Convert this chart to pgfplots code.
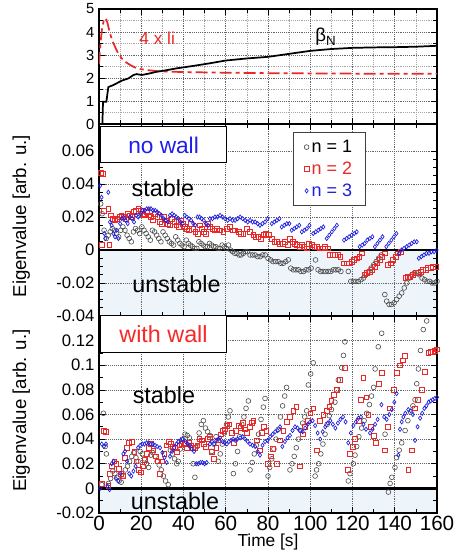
\documentclass[border=0pt]{standalone}
\usepackage{fontspec}
\setmainfont{Liberation Sans}
\usepackage{pgfplots}
\pgfplotsset{compat=1.18}
\usepackage{pgfplotstable}
\definecolor{cred}{RGB}{235,40,40}
\definecolor{cblue}{RGB}{30,30,225}
\definecolor{cgray}{RGB}{75,75,75}
\definecolor{unst}{RGB}{237,244,250}
\definecolor{tred}{RGB}{250,40,40}
\definecolor{tblue}{RGB}{30,30,240}

\pgfplotstableread{
t v
0 0
1.6 0
1.9 0.97
3.5 0.97
4.4 1.6
5.5 1.65
6.5 1.68
8.4 1.77
10 1.85
11.5 1.91
13.9 1.98
15 2.05
16.3 2.13
17.8 2.17
19 2.15
20.2 2.13
24 2.2
27.3 2.27
32 2.34
36.8 2.42
45 2.53
52.5 2.64
60 2.76
70 2.85
80 2.92
90 3.05
100 3.18
110 3.26
120 3.31
130 3.33
140 3.34
150 3.36
160 3.40
}\betaN

\pgfplotstableread{
t v
0 2.6
0.8 3.6
1.5 4.2
2.4 4.55
3.2 4.6
4 4.4
5.2 3.94
6.4 3.6
7.6 3.36
9 3.08
10.7 2.86
12.5 2.7
14.7 2.57
17 2.46
19.4 2.39
23 2.34
27.3 2.3
35 2.27
45 2.25
60 2.23
80 2.21
100 2.2
120 2.19
140 2.18
160 2.18
}\li

\pgfplotstableread{
t v
0.8 0.028
1.5 0.022
2.4 0.012
3.4 0.007
4.4 0.009
5.3 0.011
6.3 0.013
7.3 0.012
8.3 0.010
9.3 0.008
10.3 0.012
11.3 0.014
12.3 0.012
13.3 0.009
14.3 0.007
15.3 0.005
16.3 0.011
17.3 0.013
18.3 0.012
19.3 0.010
20.3 0.014
21.3 0.012
22.3 0.010
23.3 0.008
24.3 0.006
25.3 0.012
26.3 0.011
27.3 0.009
28.3 0.007
29.3 0.005
30.3 0.011
31.3 0.009
32.3 0.007
33.3 0.005
34.3 0.004
35.3 0.003
36.3 0.008
37.3 0.006
38.3 0.004
39.3 0.003
40.3 0.002
41.3 0.006
42.3 0.004
43.3 0.003
44.3 0.002
45.3 0.001
46.3 0.001
47.3 0.005
48.3 0.004
49.3 0.003
50.3 0.002
51.3 0.002
52.3 0.004
53.3 0.003
54.3 0.002
55.3 0.002
56.3 0.001
57.3 0.001
58.3 0.003
59.3 0.002
60.3 0.001
61.3 0.003
62.3 0.000
63.3 -0.001
64.3 -0.002
65.3 -0.002
66.3 -0.003
67.3 -0.003
68.3 -0.002
69.3 -0.001
70.3 -0.001
71.5 -0.003
72.7 -0.003
73.9 -0.003
75.1 -0.004
76.3 -0.004
77.5 -0.003
78.7 -0.003
80.0 -0.005
81.2 -0.006
82.4 -0.007
83.6 -0.007
84.8 -0.007
86.0 -0.008
87.2 -0.008
88.4 -0.007
89.6 -0.006
90.8 -0.011
92.0 -0.012
93.2 -0.012
94.4 -0.012
95.6 -0.013
96.8 -0.013
98.0 -0.012
99.2 -0.012
100.4 -0.011
102.5 -0.006
103.7 -0.012
104.9 -0.013
106.1 -0.013
107.3 -0.013
108.5 -0.013
109.7 -0.013
110.9 -0.012
112.1 -0.012
113.3 -0.012
114.5 -0.013
118.0 -0.013
119.2 -0.019
120.4 -0.019
121.6 -0.019
122.8 -0.019
124.0 -0.018
125.2 -0.017
126.4 -0.015
127.6 -0.013
128.8 -0.011
130.0 -0.009
131.2 -0.007
132.4 -0.005
133.6 -0.003
135.3 -0.027
136.2 -0.031
137.3 -0.033
138.5 -0.033
139.7 -0.032
140.9 -0.030
142.1 -0.028
143.3 -0.026
144.5 -0.023
145.7 -0.020
146.9 -0.017
148.1 -0.015
149.3 -0.014
150.5 -0.014
151.7 -0.015
152.9 -0.017
154.1 -0.018
155.3 -0.019
156.5 -0.019
157.7 -0.020
158.9 -0.020
160.0 -0.019
}\mA

\pgfplotstableread{
t v
1.0 0.047
1.8 0.046
1.3 0.003
2.4 0.024
4.4 0.025
4.9 0.003
5.6 0.021
6.6 0.019
7.6 0.018
8.6 0.019
9.6 0.020
10.6 0.021
11.6 0.020
12.6 0.019
13.6 0.022
14.6 0.021
15.6 0.020
16.6 0.023
17.6 0.024
18.6 0.025
19.6 0.024
20.6 0.022
21.6 0.021
22.6 0.023
23.6 0.021
24.6 0.020
25.6 0.018
26.6 0.022
27.6 0.020
28.6 0.017
29.6 0.016
30.6 0.020
31.6 0.018
32.6 0.016
33.6 0.015
34.6 0.019
35.6 0.017
36.6 0.015
37.6 0.014
38.6 0.018
39.6 0.016
40.6 0.014
41.6 0.013
42.6 0.012
43.6 0.016
44.6 0.013
45.6 0.011
46.6 0.010
47.6 0.015
48.6 0.013
49.6 0.011
50.6 0.010
51.6 0.016
52.6 0.014
53.6 0.013
54.6 0.012
55.7 0.013
57.3 0.012
58.8 0.011
60.4 0.013
62.0 0.014
63.2 0.012
64.4 0.012
66.0 0.011
67.2 0.010
68.3 0.010
69.9 0.013
71.5 0.011
73.0 0.009
74.2 0.008
75.4 0.008
76.6 0.007
77.8 0.009
79.0 0.010
80.2 0.009
81.8 0.007
83.0 0.005
84.1 0.005
85.7 0.004
87.0 0.004
88.0 0.005
89.2 0.003
90.4 0.007
91.6 0.005
92.8 0.004
93.6 0.003
94.8 0.002
96.0 0.003
97.2 0.002
98.3 0.001
99.5 0.004
100.7 0.003
101.9 0.002
103.0 0.002
104.6 0.001
105.8 0.001
107.0 0.002
108.2 0.001
109.4 -0.003
110.6 -0.003
111.8 -0.003
113.0 -0.003
114.2 -0.004
116.0 -0.008
117.2 -0.008
118.4 -0.008
119.6 -0.007
120.8 -0.006
122.0 -0.005
123.2 -0.004
124.4 -0.002
125.6 -0.015
126.8 -0.014
128.0 -0.013
129.2 -0.012
130.4 -0.010
131.6 -0.008
132.8 -0.006
134.0 -0.004
135.2 -0.002
136.8 -0.009
138.0 -0.008
139.2 -0.006
140.4 -0.004
141.6 -0.002
143.0 -0.001
145.0 -0.017
146.2 -0.016
147.4 -0.016
148.6 -0.015
149.8 -0.014
151.0 -0.014
152.2 -0.013
153.4 -0.012
154.6 -0.012
155.8 -0.011
157.0 -0.011
158.2 -0.010
159.4 -0.010
}\mB

\pgfplotstableread{
t v
0.5 0.039
1.2 0.032
2.5 0.010
3.0 0.007
4.4 0.035
5.2 0.017
6.0 0.015
6.8 0.010
7.6 0.008
8.4 0.012
9.2 0.007
10.0 0.016
10.8 0.019
11.6 0.020
12.6 0.018
13.6 0.016
14.6 0.020
15.6 0.019
16.6 0.017
17.6 0.021
18.6 0.020
19.6 0.022
20.6 0.024
21.6 0.024
22.6 0.025
23.6 0.025
24.6 0.025
25.6 0.024
26.6 0.024
27.6 0.023
28.6 0.022
29.6 0.021
30.6 0.019
31.6 0.018
32.6 0.017
33.6 0.021
34.6 0.022
35.6 0.021
36.6 0.020
37.6 0.019
38.6 0.017
39.6 0.016
40.6 0.021
41.6 0.020
42.6 0.019
43.6 0.018
44.6 0.016
45.6 0.015
46.6 0.020
47.6 0.020
48.6 0.019
49.6 0.018
50.6 0.016
51.6 0.015
52.5 0.019
53.7 0.019
54.9 0.020
56.1 0.020
57.3 0.021
58.5 0.020
59.7 0.019
60.9 0.018
62.0 0.019
63.2 0.018
64.4 0.018
65.6 0.019
66.8 0.020
68.0 0.019
69.2 0.018
70.4 0.017
71.5 0.018
72.7 0.017
73.9 0.017
75.1 0.016
76.2 0.015
77.4 0.016
78.6 0.017
79.8 0.019
81.8 0.016
83.0 0.017
84.2 0.018
85.4 0.019
86.5 0.014
87.7 0.015
88.9 0.016
90.1 0.016
91.2 0.012
92.4 0.013
93.6 0.014
94.8 0.015
96.0 0.011
97.2 0.012
98.4 0.013
99.6 0.015
101.4 0.010
102.6 0.011
103.8 0.012
105.0 0.013
106.2 0.014
107.8 0.007
109.0 0.009
110.2 0.011
111.4 0.013
112.6 0.015
116.0 0.006
117.2 0.007
118.4 0.008
119.6 0.009
120.8 0.010
122.0 0.011
123.4 0.002
124.6 0.003
125.8 0.004
127.0 0.006
128.2 0.007
129.4 0.008
130.6 0.002
131.8 0.004
133.0 0.006
134.2 0.008
136.0 0.002
137.2 0.004
138.4 0.006
139.6 0.008
140.8 0.010
142.0 -0.002
143.2 0.000
144.4 0.001
145.6 0.002
146.8 0.003
148.0 0.004
149.2 0.005
150.4 0.005
151.4 -0.005
152.6 -0.004
153.8 -0.003
155.0 -0.002
156.2 -0.002
157.4 -0.001
158.6 -0.001
159.8 0.000
}\mC

\pgfplotstableread{
t v
1.3 0.003
2.1 0.061
2.9 0.034
3.5 0.028
4.5 0.004
5.5 0.008
6.5 0.014
7.5 0.012
8.5 0.009
9.5 0.006
10.5 0.005
11.5 0.010
12.5 0.015
13.5 0.018
14.5 0.022
15.5 0.026
16.5 0.029
17.5 0.025
18.5 0.022
19.5 0.030
20.5 0.028
21.5 0.024
22.5 0.020
23.5 0.017
24.5 0.027
25.5 0.029
26.5 0.026
27.5 0.022
28.5 0.019
29.5 0.015
30.5 0.010
31.5 0.006
32.8 0.003
33.8 0.031
34.8 0.028
35.8 0.024
36.8 0.020
37.5 0.022
38.5 0.032
39.5 0.040
40.7 0.044
41.8 0.043
42.8 0.041
43.8 0.035
44.6 0.020
45.4 0.009
46.4 0.034
47.4 0.045
48.4 0.052
49.4 0.055
50.4 0.049
51.4 0.046
52.4 0.043
53.4 0.030
54.4 0.036
55.4 0.042
56.4 0.022
57.4 0.028
58.4 0.036
59.4 0.045
60.4 0.052
61.2 0.058
62.0 0.063
63.6 0.012
64.6 0.020
65.6 0.030
66.6 0.042
67.6 0.052
68.6 0.058
69.6 0.065
70.7 0.071
71.5 0.015
72.5 0.021
73.5 0.028
74.5 0.035
75.5 0.044
76.7 0.056
77.8 0.066
78.6 0.073
80.0 0.010
80.8 0.017
81.8 0.024
82.8 0.032
83.8 0.040
84.9 0.048
85.9 0.058
86.9 0.067
87.9 0.075
88.8 0.082
90.4 0.015
91.4 0.020
92.4 0.026
93.4 0.033
94.4 0.040
95.4 0.047
96.4 0.053
97.4 0.058
98.3 0.063
99.1 0.084
100.2 0.093
101.4 0.102
102.3 0.010
103.0 0.015
104.0 0.020
105.0 0.028
106.0 0.036
107.0 0.044
108.0 0.052
109.0 0.059
110.0 0.064
111.7 0.070
112.5 0.080
113.3 0.088
114.9 0.098
115.7 0.108
116.4 0.119
118.0 0.006
118.8 0.012
120.4 0.020
121.2 0.027
122.0 0.034
123.0 0.042
124.3 0.049
125.5 0.055
126.7 0.061
128.0 0.068
129.0 0.075
130.0 0.082
130.7 0.097
132.2 0.115
133.8 0.126
135.4 0.044
137.0 -0.003
137.8 0.004
138.6 0.009
140.1 0.017
140.9 0.025
142.1 0.031
143.3 0.037
144.9 0.047
146.2 0.055
147.5 0.062
148.6 0.067
149.6 0.072
150.4 0.085
151.2 0.097
152.2 0.112
153.5 0.129
155.1 0.136
}\wA

\pgfplotstableread{
t v
1.3 0.004
2.1 0.047
3.2 0.046
4.4 0.002
5.2 0.012
6.2 0.018
7.2 0.022
8.2 0.020
9.2 0.016
10.2 0.012
11.2 0.010
12.2 0.025
13.2 0.033
14.2 0.037
15.7 0.038
16.7 0.030
17.7 0.022
18.7 0.015
19.7 0.013
20.7 0.018
21.7 0.023
22.7 0.028
23.7 0.033
24.7 0.036
25.7 0.031
26.7 0.026
27.7 0.022
28.9 0.012
29.9 0.022
30.9 0.028
31.9 0.035
33.0 0.038
34.0 0.036
35.0 0.034
36.0 0.033
37.0 0.030
38.0 0.035
39.0 0.036
40.5 0.036
41.5 0.033
42.5 0.037
43.5 0.035
44.5 0.033
45.5 0.033
46.5 0.035
47.5 0.040
48.5 0.039
49.5 0.036
50.5 0.034
51.5 0.040
52.5 0.042
53.5 0.030
54.5 0.024
55.5 0.033
56.5 0.039
57.5 0.044
58.5 0.047
59.7 0.048
60.7 0.051
61.7 0.052
62.7 0.045
63.7 0.037
64.9 0.047
66.0 0.051
67.0 0.049
68.0 0.053
69.0 0.048
70.0 0.045
71.2 0.050
72.2 0.053
73.0 0.055
74.6 0.039
76.2 0.031
77.2 0.045
78.2 0.050
79.2 0.047
80.0 0.020
81.2 0.026
82.4 0.032
84.1 0.020
85.7 0.039
87.2 0.047
88.8 0.054
90.4 0.058
92.0 0.063
93.4 0.066
95.2 0.018
96.4 0.044
97.6 0.050
98.8 0.055
100.0 0.061
101.4 0.065
103.0 0.031
104.6 0.055
106.2 0.060
107.8 0.063
109.0 0.066
110.0 0.071
111.2 0.076
112.5 0.080
114.1 0.088
116.4 0.098
117.6 0.015
118.8 0.028
120.0 0.034
121.2 0.040
122.8 0.055
124.0 0.072
125.1 0.090
126.5 0.074
127.5 0.060
128.8 0.050
130.0 0.043
131.2 0.037
132.5 0.085
133.8 0.094
135.4 0.031
136.6 0.050
137.8 0.065
139.4 0.080
140.9 0.094
142.5 0.100
143.7 0.104
144.9 0.108
146.4 0.015
148.0 0.031
149.6 0.065
151.0 0.072
152.7 0.080
154.3 0.095
155.9 0.110
157.0 0.111
158.0 0.111
159.0 0.112
160.0 0.113
}\wB

\pgfplotstableread{
t v
0.5 0.000
1.3 0.036
2.3 0.034
3.3 0.036
4.0 0.002
5.0 -0.001
6.0 0.020
7.0 0.022
8.0 0.008
9.2 0.006
10.2 0.012
11.5 0.028
12.3 0.030
13.3 0.022
14.3 0.012
15.3 0.010
16.3 0.014
17.3 0.018
18.5 0.033
19.5 0.035
20.5 0.036
21.5 0.036
22.5 0.037
23.5 0.037
24.5 0.036
25.5 0.036
26.5 0.035
27.5 0.034
28.9 0.033
30.0 0.029
31.0 0.025
32.0 0.021
33.6 0.026
34.6 0.030
35.6 0.033
36.6 0.036
37.6 0.038
38.6 0.039
39.6 0.040
41.0 0.038
42.0 0.036
43.0 0.035
44.0 0.032
45.0 0.030
46.0 0.020
47.0 0.020
48.0 0.021
49.0 0.021
50.0 0.020
51.0 0.021
52.5 0.036
53.5 0.038
54.5 0.036
55.5 0.039
56.5 0.040
57.3 0.041
58.5 0.038
59.5 0.037
60.5 0.036
61.5 0.038
62.5 0.039
63.5 0.040
64.5 0.039
65.5 0.040
66.8 0.041
68.0 0.042
69.2 0.040
70.4 0.038
71.5 0.036
72.7 0.035
73.9 0.034
75.1 0.030
76.2 0.027
77.4 0.035
78.6 0.038
79.8 0.039
81.0 0.042
82.2 0.044
83.4 0.046
84.6 0.047
85.7 0.050
86.8 0.034
88.0 0.038
89.2 0.041
90.4 0.043
91.6 0.047
92.8 0.050
94.0 0.049
95.2 0.047
96.4 0.046
97.6 0.049
98.8 0.052
99.9 0.054
101.1 0.055
102.3 0.051
103.5 0.045
104.7 0.040
105.9 0.046
107.1 0.050
108.3 0.053
109.5 0.055
110.7 0.052
111.9 0.049
113.1 0.053
114.3 0.056
115.5 0.058
116.7 0.054
118.0 0.037
119.2 0.045
120.4 0.051
121.6 0.054
122.8 0.057
124.0 0.058
125.2 0.052
126.4 0.048
128.3 0.045
129.5 0.048
130.7 0.052
131.9 0.056
133.7 0.068
135.0 0.058
136.2 0.056
137.4 0.060
138.6 0.064
139.8 0.070
140.9 0.077
141.7 0.027
142.5 0.048
143.3 0.054
144.1 0.058
145.0 0.061
146.4 0.064
147.6 0.063
148.6 0.060
149.6 0.039
150.8 0.050
152.0 0.057
153.0 0.061
154.0 0.065
155.0 0.067
156.0 0.070
157.0 0.071
158.0 0.072
159.0 0.073
160.0 0.074
}\wC

\pgfplotsset{
  panel/.style={
    scale only axis, width=253.5pt,
    xmin=0, xmax=160, xtick={0,20,...,160},
    minor x tick num=1,
    set layers,
    grid=major,
    major grid style={densely dotted, black!60, line width=0.5pt},
    axis line style={line width=0.8pt},
    tick style={black, line width=0.5pt},
    scaled ticks=false,
    y tick label style={font=\fontsize{12.5}{14}\selectfont},
    x tick label style={font=\fontsize{15.5}{17}\selectfont, yshift=1.5pt},
    ylabel style={font=\fontsize{14}{16}\selectfont, at={(axis description cs:-0.23,0.52)}, anchor=center},
  },
  mkA/.style={only marks, mark=o, draw=cgray, mark size=1.8pt, mark options={line width=0.45pt}},
  mkB/.style={only marks, mark=square, draw=cred, mark size=1.8pt, mark options={line width=0.45pt}},
  mkC/.style={only marks, mark=diamond, draw=cblue, mark size=1.6pt, mark options={line width=0.5pt}},
}

\begin{document}
\begin{tikzpicture}

% bottom panel: with wall
\begin{axis}[panel, at={(0pt,0pt)}, anchor=south west, height=147.75pt,
  ymin=-0.02, ymax=0.14,
  ytick={-0.02,0,0.02,0.04,0.06,0.08,0.1,0.12},
  yticklabels={-0.02,0,0.02,0.04,0.06,0.08,0.1,0.12},
  minor y tick num=1,
  xticklabels={0,20,40,60,80,100,120,140,160},
  xlabel={Time [s]},
  xlabel style={font=\fontsize{13}{15}\selectfont, at={(axis description cs:0.5,0)}, anchor=center, yshift=-21.5pt},
  ylabel={Eigenvalue [arb. u.]},
]
\addplot[on layer=axis background, fill=unst, draw=none, forget plot] coordinates {(0,-0.02) (160,-0.02) (160,0) (0,0) (0,-0.02)};
\addplot[mkA] table {\wA};
\addplot[mkB] table {\wB};
\addplot[mkC] table {\wC};
\addplot[black, line width=1.8pt, forget plot] coordinates {(0,0) (160,0)};
\node[draw=black, line width=0.8pt, fill=white, minimum width=95pt, minimum height=28pt, inner sep=0pt,
  font=\fontsize{17.5}{19}\selectfont, text=tred] at (rel axis cs:0.191,0.909) {with wall};
\node[font=\fontsize{17.5}{19}\selectfont] at (rel axis cs:0.192,0.599) {stable};
\node[font=\fontsize{17.5}{19}\selectfont, inner sep=0pt] at (rel axis cs:0.225,0.058) {unstable};
\end{axis}

% middle panel: no wall
\begin{axis}[panel, at={(0pt,147.75pt)}, anchor=south west, height=144pt,
  ymin=-0.04, ymax=0.0764,
  ytick={-0.04,-0.02,0,0.02,0.04,0.06},
  yticklabels={-0.04,-0.02,0,0.02,0.04,0.06},
  minor y tick num=3,
  xticklabels={},
  ylabel={Eigenvalue [arb. u.]},
  legend style={at={(axis description cs:0.574,0.958)}, anchor=north west,
    draw=black!75, line width=0.8pt, fill=white,
    font=\fontsize{13.5}{15}\selectfont, row sep=1.5pt, inner xsep=8pt, inner ysep=3.5pt},
  legend cell align=left,
]
\addplot[on layer=axis background, fill=unst, draw=none, forget plot] coordinates {(0,-0.04) (160,-0.04) (160,0) (0,0) (0,-0.04)};
\addplot[mkA] table {\mA};
\addlegendentry{n = 1}
\addplot[mkB] table {\mB};
\addlegendentry{\textcolor{cred}{n = 2}}
\addplot[mkC] table {\mC};
\addlegendentry{\textcolor{cblue}{n = 3}}
\addplot[black, line width=1.8pt, forget plot] coordinates {(0,0) (160,0)};
\node[draw=black, line width=0.8pt, fill=white, minimum width=95pt, minimum height=27pt, inner sep=0pt,
  font=\fontsize{17}{19}\selectfont, text=tblue] at (rel axis cs:0.191,0.891) {no wall};
\node[font=\fontsize{17.5}{19}\selectfont] at (rel axis cs:0.189,0.667) {stable};
\node[font=\fontsize{17.5}{19}\selectfont] at (rel axis cs:0.229,0.167) {unstable};
\end{axis}

% top panel
\begin{axis}[panel, at={(0pt,291.75pt)}, anchor=south west, height=86.25pt,
  ymin=0, ymax=5, ytick={0,1,2,3,4,5}, yticklabels={0,1,2,3,4,5},
  minor y tick num=1,
  grid=both,
  minor grid style={densely dotted, black!35, line width=0.4pt},
  y tick label style={font=\fontsize{11}{13}\selectfont},
  xticklabels={},
]
\addplot[cred, line width=1.3pt, dash pattern=on 9pt off 3pt on 3pt off 3pt] table {\li};
\addplot[black, line width=1.3pt] table {\betaN};
\node[font=\fontsize{13}{15}\selectfont, text=cred] at (rel axis cs:0.172,0.748) {4 x li};
\node[font=\fontsize{14}{16}\selectfont] at (rel axis cs:0.67,0.76) {β\raisebox{-0.45ex}{\fontsize{10}{12}\selectfont N}};
\end{axis}

\pgfresetboundingbox
\path[use as bounding box] (-74.25pt,-27.75pt) rectangle (270.75pt,384.75pt);
\end{tikzpicture}
\end{document}
